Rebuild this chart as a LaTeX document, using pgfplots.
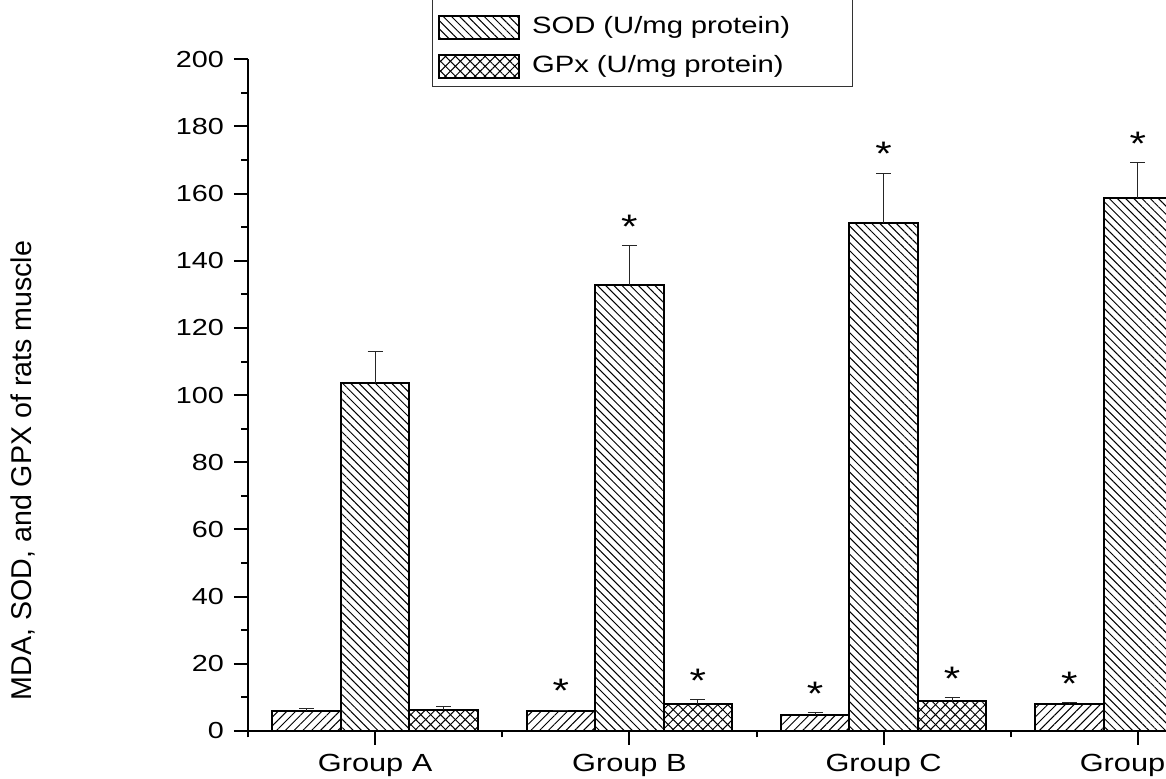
\documentclass[border=0pt]{standalone}
\usepackage{fontspec}
\setmainfont{Liberation Sans}[FakeStretch=1.24]
\newfontfamily\ylabfont{Liberation Sans}
\usepackage{pgfplots}
\pgfplotsset{compat=1.18}
\usetikzlibrary{patterns.meta}
\tikzset{
  mdapat/.style={pattern={Lines[angle=45,distance=3.1pt,line width=0.5pt]}},
  sodpat/.style={pattern={Lines[angle=-45,distance=2.9pt,line width=0.5pt]}},
  gpxpat/.style={pattern={Lines[angle=45,distance=3.5pt,line width=0.5pt]},
                 postaction={pattern={Lines[angle=-45,distance=3.5pt,line width=0.5pt]}}},
}
\pgfplotstableread{
x   y      e
1   6.0    0.8
2   6.0    0.2
3   4.9    0.5
4   7.9    0.6
}\mda
\pgfplotstableread{
x   y      e
1   103.7  9.3
2   132.8  11.7
3   151.4  14.7
4   158.6  10.6
}\sod
\pgfplotstableread{
x   y      e
1   6.2    1.2
2   8.0    1.4
3   8.8    1.2
4   9.5    1.0
}\gpx
\begin{document}
\begin{tikzpicture}
\path[use as bounding box, clip] (-124pt,-24pt) rectangle (459pt,365.5pt);
\begin{axis}[
  at={(0,0)}, anchor=south west,
  scale only axis, width=508.5pt, height=335.85pt,
  xmin=0.5, xmax=4.5, ymin=0, ymax=200,
  axis x line*=bottom, axis y line*=left,
  axis line style={line width=1pt, black},
  ybar=0pt, bar width=34.25pt,
  xtick={1,2,3,4},
  xticklabels={Group A,Group B,Group C,Group D},
  minor xtick={0.5,1.5,2.5,3.5,4.5},
  ytick={0,20,...,200},
  minor ytick={10,30,...,190},
  tick align=outside,
  major tick length=7pt, minor tick length=3.25pt,
  every tick/.style={black, line width=1pt},
  /pgf/number format/assume math mode=true,
  yticklabel style={font=\fontsize{11.6}{13}\selectfont, xshift=-1.5pt},
  xticklabel style={font=\fontsize{12.4}{14}\selectfont, yshift=-1pt},
  ylabel={\ylabfont\fontsize{14.3}{16}\selectfont MDA, SOD, and GPX of rats muscle},
  ylabel style={at={(axis description cs:-0.2212,0.388)}, anchor=center},
  legend style={at={(0.1809,0.9591)}, anchor=south west,
     draw=black!80, line width=0.6pt, inner xsep=2.5pt, inner ysep=0pt,
     row sep=0pt,
     font=\fontsize{11.8}{14}\selectfont,
     nodes={inner ysep=3.5pt, text height=9pt, text depth=3.5pt, text width=155.5pt, align=left}},
  legend cell align=left,
  legend image code/.code={\draw[#1, line width=1pt] (0pt,-5.75pt) rectangle (40pt,5.75pt);
                           \path (44.3pt,0pt);},
  error bars/error bar style={line width=0.6pt, black!85},
  error bars/error mark options={rotate=90, mark size=3.75pt, line width=0.6pt, black!85},
]
\addplot[draw=black, line width=1pt, mdapat, bar shift=-34.25pt,
  legend image code/.code={\draw[##1, line width=1pt] (0pt,-2.25pt) rectangle (40pt,9.25pt);
                           \path (44.3pt,0pt);},
  error bars/.cd, y dir=plus, y explicit]
  table[x=x, y=y, y error=e] {\mda};
\addlegendentry{\mbox{MDA (nmol/mg protein)}}
\addplot[draw=black, line width=1pt, sodpat, bar shift=0pt,
  error bars/.cd, y dir=plus, y explicit]
  table[x=x, y=y, y error=e] {\sod};
\addlegendentry{SOD (U/mg protein)}
\addplot[draw=black, line width=1pt, gpxpat, bar shift=34.25pt,
  error bars/.cd, y dir=plus, y explicit]
  table[x=x, y=y, y error=e] {\gpx};
\addlegendentry{GPx (U/mg protein)}
% significance stars, placed above the error bar tops
\addplot[draw=none, fill=none, bar shift=-34.25pt, forget plot,
  nodes near coords={*},
  every node near coord/.append style={anchor=center, yshift=9.5pt, font=\fontsize{17}{17}\selectfont}]
  coordinates {(2,6.2) (3,5.4) (4,8.5)};
\addplot[draw=none, fill=none, bar shift=0pt, forget plot,
  nodes near coords={*},
  every node near coord/.append style={anchor=center, yshift=9.5pt, font=\fontsize{17}{17}\selectfont}]
  coordinates {(2,144.5) (3,166.1) (4,169.2)};
\addplot[draw=none, fill=none, bar shift=34.25pt, forget plot,
  nodes near coords={*},
  every node near coord/.append style={anchor=center, yshift=9.5pt, font=\fontsize{17}{17}\selectfont}]
  coordinates {(2,9.4) (3,10.0)};
\end{axis}
\end{tikzpicture}
\end{document}
